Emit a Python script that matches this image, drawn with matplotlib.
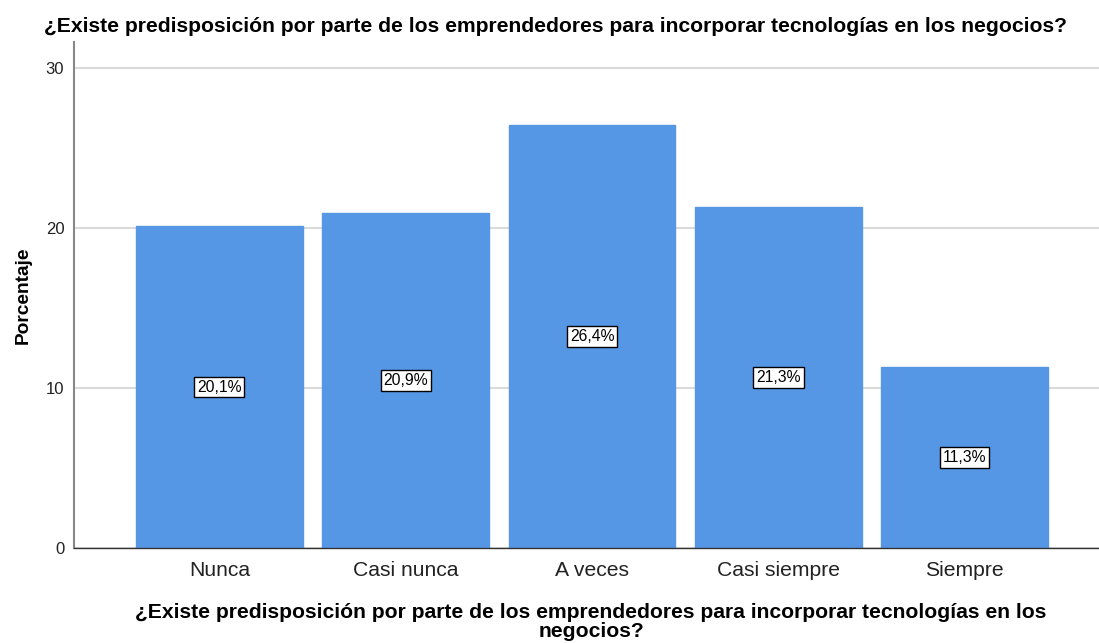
import matplotlib
matplotlib.use("Agg")
import matplotlib.pyplot as plt

categories = ["Nunca", "Casi nunca", "A veces", "Casi siempre", "Siempre"]
values = [20.1, 20.9, 26.4, 21.3, 11.3]
labels = ["20,1%", "20,9%", "26,4%", "21,3%", "11,3%"]
yticks = [0, 10, 20, 30]
title = "¿Existe predisposición por parte de los emprendedores para incorporar tecnologías en los negocios?"
xlabel = "¿Existe predisposición por parte de los emprendedores para incorporar tecnologías en los\nnegocios?"
ylabel = "Porcentaje"

plt.rcParams['font.family'] = ['Liberation Sans', 'DejaVu Sans']

fig = plt.figure(figsize=(10.99, 6.43), dpi=100)
ax = fig.add_axes([74/1099, 1 - 548/643, (1099-74)/1099, (548-42)/643])

x = list(range(len(categories)))
ax.bar(x, values, width=0.895, color="#5596E5", edgecolor="#5596E5", zorder=2)
for xi, v, lab in zip(x, values, labels):
    ax.text(xi, v/2, lab, ha="center", va="center", fontsize=11.3, zorder=3,
            bbox=dict(boxstyle="square,pad=0.18", facecolor="white", edgecolor="black", linewidth=1))

ax.set_xlim(-0.78, 4.72)
ax.set_ylim(0, 31.6)
ax.set_yticks(yticks)
ax.set_xticks(x)
ax.set_xticklabels(categories, fontsize=15.2, color="#222222")
ax.tick_params(axis="y", length=0, labelsize=12, colors="#222222", pad=7)
ax.tick_params(axis="x", length=0, pad=9)
ax.grid(axis="y", color="#DADADA", linewidth=1.5, zorder=0)
ax.set_axisbelow(True)
for s in ["top", "right"]:
    ax.spines[s].set_visible(False)
ax.spines["left"].set_color("#888888")
ax.spines["left"].set_linewidth(1.5)
ax.spines["bottom"].set_color("#333333")
ax.spines["bottom"].set_linewidth(1)

ax.set_ylabel(ylabel, fontsize=13.8, fontweight="bold", labelpad=10)
fig.text(591/1099, 1 - 622/643, xlabel, ha="center", va="center", fontsize=15.2,
         fontweight="bold", linespacing=1.05)
fig.text(556/1099, 1 - 27/643, title, ha="center", va="center", fontsize=15.2, fontweight="bold")

fig.savefig("out.png", dpi=100)
